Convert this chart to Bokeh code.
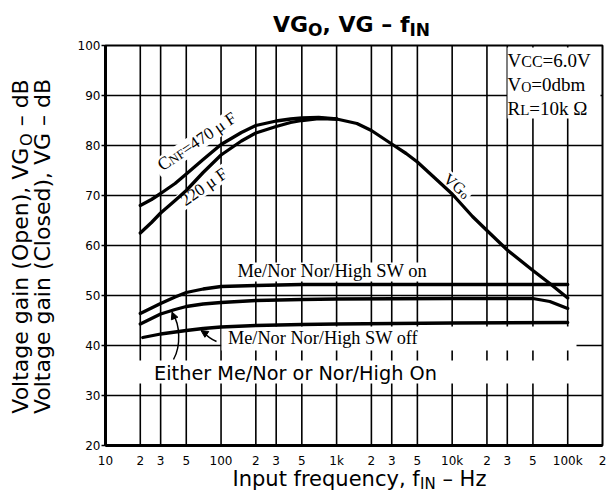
import math
from bokeh.plotting import figure
from bokeh.models import Range1d, FixedTicker, Label, Arrow, NormalHead
from bokeh.embed import file_html
from bokeh.resources import INLINE

# ---------------- data ----------------
freq_470 = [20, 25, 30, 40, 50, 70, 100, 150, 200, 300, 400, 500, 700, 1000]
gain_470 = [68.0, 69.2, 70.4, 72.4, 74.3, 77.2, 80.2, 82.6, 84.0, 84.9, 85.3, 85.5, 85.6, 85.3]

freq_220 = [20, 25, 30, 40, 50, 70, 100, 150, 200, 300, 400, 500, 700, 1000]
gain_220 = [62.5, 64.6, 66.5, 69.0, 71.0, 74.6, 78.1, 80.9, 82.5, 83.8, 84.6, 85.0, 85.4, 85.3]

freq_vgo = [1000, 1500, 2000, 3000, 4000, 5000, 7000, 10000, 15000, 20000, 30000, 50000, 70000, 100000]
gain_vgo = [85.3, 84.4, 83.0, 80.3, 78.4, 76.7, 73.6, 70.3, 65.8, 63.0, 59.1, 55.0, 52.4, 49.5]

freq_sw_on = [20, 25, 30, 40, 50, 70, 100, 200, 500, 1000, 10000, 100000]
gain_sw_on = [46.4, 47.5, 48.4, 49.7, 50.6, 51.3, 51.8, 52.0, 52.2, 52.2, 52.2, 52.2]

freq_either = [20, 25, 30, 40, 50, 70, 100, 200, 500, 1000, 10000, 50000, 70000, 100000]
gain_either = [44.3, 45.4, 46.3, 47.2, 47.8, 48.3, 48.6, 49.0, 49.2, 49.3, 49.4, 49.4, 48.8, 47.4]

freq_sw_off = [21, 30, 50, 70, 100, 200, 500, 1000, 10000, 100000]
gain_sw_off = [41.6, 42.3, 43.0, 43.4, 43.7, 44.0, 44.2, 44.3, 44.5, 44.6]

x_ticks = [10, 20, 30, 50, 100, 200, 300, 500, 1000, 2000, 3000, 5000,
           10000, 20000, 30000, 50000, 100000, 200000]
x_tick_labels = ["10", "2", "3", "5", "100", "2", "3", "5", "1k", "2", "3", "5",
                 "10k", "2", "3", "5", "100k", "2"]
y_ticks = [20, 30, 40, 50, 60, 70, 80, 90, 100]
x_grid = x_ticks[1:-1]
y_grid = y_ticks[1:-1]

# ---------------- layout helpers (canvas pixel -> data) ----------------
W, H = 608, 493
CHART_L, CHART_T = 105, 45            # px of chart box
CHART_W, CHART_H = 497, 400
X0, X1 = x_ticks[0], x_ticks[-1]
Y0, Y1 = y_ticks[0], y_ticks[-1]
DEC_PX = CHART_W / math.log10(X1 / X0)
DB_PX = CHART_H / (Y1 - Y0)
BASE_K = 0.33   # empirical correction of the label baseline placement


def X(px):
    return 10 ** (math.log10(X0) + (px - CHART_L) / DEC_PX)


def Y(py):
    return Y1 - (py - CHART_T) / DB_PX


SANS = {' ': .318, '(': .390, ')': .390, ',': .318, '–': .5, 'B': .686, 'C': .698,
        'E': .632, 'G': .775, 'H': .752, 'I': .295, 'M': .863, 'N': .748, 'O': .787,
        'V': .684, 'a': .613, 'c': .550, 'd': .635, 'e': .615, 'f': .352, 'g': .635,
        'h': .634, 'i': .278, 'l': .278, 'n': .634, 'o': .612, 'p': .635, 'q': .635,
        'r': .411, 's': .521, 't': .392, 'u': .634, 'y': .592, 'z': .525, '/': .337}
for d in "0123456789":
    SANS[d] = .636
SANS_B = {' ': .348, ',': .380, '–': .5, 'V': .774, 'G': .821, 'O': .850,
          'I': .372, 'N': .837, 'f': .435}
SERIF = {'C': .667, 'N': .722, 'F': .556, '=': .564, ' ': .25, 'μ': .5, 'V': .722,
         'G': .722, 'o': .5, 'R': .667, 'L': .611, 'O': .722, '.': .25, 'd': .5,
         'b': .5, 'm': .778, 'k': .5, 'Ω': .768}
for d in "0123456789":
    SERIF[d] = .5


def tw(text, size, table):
    return sum(table.get(ch, 0.6) for ch in text) * size


# the frame covers the whole canvas; the chart box sits inside it
p = figure(width=W, height=H, x_axis_type="log",
           x_range=Range1d(X(0), X(W)), y_range=Range1d(Y(H), Y(0)),
           output_backend="svg", toolbar_location=None, min_border=0)
p.title.visible = False
p.background_fill_color = "white"
p.border_fill_color = "white"
p.outline_line_color = None
p.xgrid.visible = False
p.ygrid.visible = False

# axes pinned to the chart box edges
p.xaxis.fixed_location = Y0
p.xaxis.bounds = (X0, X1)
p.yaxis.fixed_location = X0
p.yaxis.bounds = (Y0, Y1)
p.xaxis.ticker = FixedTicker(ticks=x_ticks)
p.xaxis.major_label_overrides = dict(zip(x_ticks, x_tick_labels))
p.yaxis.ticker = FixedTicker(ticks=y_ticks)
for ax in (p.xaxis, p.yaxis):
    ax.axis_line_color = "black"
    ax.axis_line_width = 3
    ax.major_tick_in = 0
    ax.minor_tick_in = 0
    ax.minor_tick_out = 0
    ax.major_tick_line_color = "black"
    ax.major_tick_line_width = 1.5
    ax.major_label_text_font = "DejaVu Sans"
    ax.major_label_text_font_size = "12px"
    ax.major_label_text_color = "black"
p.xaxis.major_tick_out = 0
p.xaxis.major_label_standoff = 8
p.yaxis.major_tick_out = 4
p.yaxis.major_label_standoff = 1

# grid lines of the chart box
p.segment(x0=x_grid, x1=x_grid, y0=[Y0] * len(x_grid), y1=[Y1] * len(x_grid),
          line_color="black", line_width=1.6)
p.segment(x0=[X0] * len(y_grid), x1=[X1] * len(y_grid), y0=y_grid, y1=y_grid,
          line_color="black", line_width=1.6)

# white masks where the original grid is interrupted (layout, pixels)
mask_boxes = [  # (left, right, top, bottom)
    (507, 600, 47, 118),     # condition box
    (233, 430, 262, 281),    # SW on text
    (221, 576, 326, 350),    # SW off text / 40 dB line
    (132, 592, 360, 383),    # Either ... text
]
p.quad(left=[X(b[0]) for b in mask_boxes], right=[X(b[1]) for b in mask_boxes],
       top=[Y(b[2]) for b in mask_boxes], bottom=[Y(b[3]) for b in mask_boxes],
       fill_color="white", line_color=None)
rot_masks = [  # (cx, cy, w, h, angle deg)
    (198, 140.5, 102, 18, 34),
    (203, 186.5, 60, 17, 35),
    (456, 185.5, 34, 16, -40),
]
p.rect(x=[X(m[0]) for m in rot_masks], y=[Y(m[1]) for m in rot_masks],
       width=[m[2] for m in rot_masks], height=[m[3] for m in rot_masks],
       angle=[math.radians(m[4]) for m in rot_masks],
       width_units="screen", height_units="screen",
       fill_color="white", line_color=None)

# chart box outline
p.quad(left=[X0], right=[X1], bottom=[Y0], top=[Y1], fill_color=None,
       line_color="black", line_width=2)

# curves
for fx, gy in ((freq_470, gain_470), (freq_220, gain_220), (freq_vgo, gain_vgo),
               (freq_sw_on, gain_sw_on), (freq_either, gain_either),
               (freq_sw_off, gain_sw_off)):
    p.line(fx, gy, line_color="black", line_width=3.3, line_join="round", line_cap="round")


def put(pieces, px, py, angle_deg=0.0, font="DejaVu Sans", style="normal", table=SANS):
    """Place text pieces one after another along the baseline (for sub-scripts)."""
    a = math.radians(angle_deg)
    dx, dy = math.cos(a), -math.sin(a)
    ux, uy = math.sin(a), math.cos(a)
    cur = 0.0
    for text, size, shift in pieces:
        stripped = text.lstrip(" ")
        cur += tw(text[:len(text) - len(stripped)], size, table)
        s = shift - BASE_K * size
        bx = px + dx * cur + ux * s
        by = py + dy * cur + uy * s
        p.add_layout(Label(x=X(bx), y=Y(by), text=stripped, angle=a,
                           text_font=font, text_font_size=f"{size}px",
                           text_font_style=style, text_align="left",
                           text_baseline="alphabetic", text_color="black"))
        cur += tw(stripped, size, table)


def centered(text, px, py, size, font="DejaVu Sans", angle_deg=0.0):
    a = math.radians(angle_deg)
    s = -BASE_K * size
    p.add_layout(Label(x=X(px + math.sin(a) * s), y=Y(py + math.cos(a) * s), text=text,
                       angle=a, text_font=font, text_font_size=f"{size}px",
                       text_align="center", text_baseline="alphabetic",
                       text_color="black"))


# title
put([("VG", 22, 0), ("O", 17, 4.5), (", VG – f", 22, 0), ("IN", 17, 4.5)],
    272.5, 31, style="bold", table=SANS_B)

# axis titles
y1 = [("Voltage gain (Open), VG", 22, 0), ("O", 16, 4), (" – dB", 22, 0)]
len1 = sum(tw(t, s, SANS) for t, s, _ in y1)
put(y1, 27, 246 + len1 / 2, angle_deg=90)
centered("Voltage gain (Closed), VG – dB", 49, 246, 22, angle_deg=90)
put([("Input frequency, f", 21, 0), ("IN", 15, 3.5), (" – Hz", 21, 0)], 232, 485)

# condition box text
SER = "Liberation Serif"
put([("V", 19, 0), ("CC", 16, 0), ("=6.0V", 19, 0)], 507, 66.5, font=SER, table=SERIF)
put([("V", 19, 0), ("O", 14, 1.5), ("=0dbm", 19, 0)], 507, 90, font=SER, table=SERIF)
put([("R", 19, 0), ("L", 15, 0), ("=10k Ω", 19, 0)], 507, 114, font=SER, table=SERIF)

# curve labels
put([("C", 18, 0), ("NF", 13, 0), ("=470 μ F", 17, 0)], 162, 171, angle_deg=34,
    font=SER, table=SERIF)
put([("220 μ F", 17, 0)], 185, 206, angle_deg=35, font=SER, table=SERIF)
put([("VG", 16, 0), ("o", 12, 1)], 442, 180, angle_deg=-40, font=SER, table=SERIF)

centered("Me/Nor Nor/High SW on", 331.7, 277, 18.5, font=SER)
centered("Me/Nor Nor/High SW off", 322.5, 343.5, 18.3, font=SER)
centered("Either Me/Nor or Nor/High On", 295, 379, 19.3)

# pointers
p.bezier(x0=[X(216), X(173)], y0=[Y(341), Y(359)],
         x1=[X(203.5), X(172.5)], y1=[Y(332), Y(314)],
         cx0=[X(210), X(181)], cy0=[Y(338.5), Y(345)],
         cx1=[X(206), X(179)], cy1=[Y(335), Y(323)],
         line_color="black", line_width=1.5)
p.add_layout(Arrow(x_start=X(203.5), y_start=Y(332), x_end=X(200.5), y_end=Y(330),
                   line_width=1.5, line_color="black",
                   end=NormalHead(size=7, fill_color="black", line_color="black")))
p.add_layout(Arrow(x_start=X(172.5), y_start=Y(314), x_end=X(171.5), y_end=Y(311.5),
                   line_width=1.5, line_color="black",
                   end=NormalHead(size=7, fill_color="black", line_color="black")))

open("out.html", "w").write(file_html(p, INLINE))
